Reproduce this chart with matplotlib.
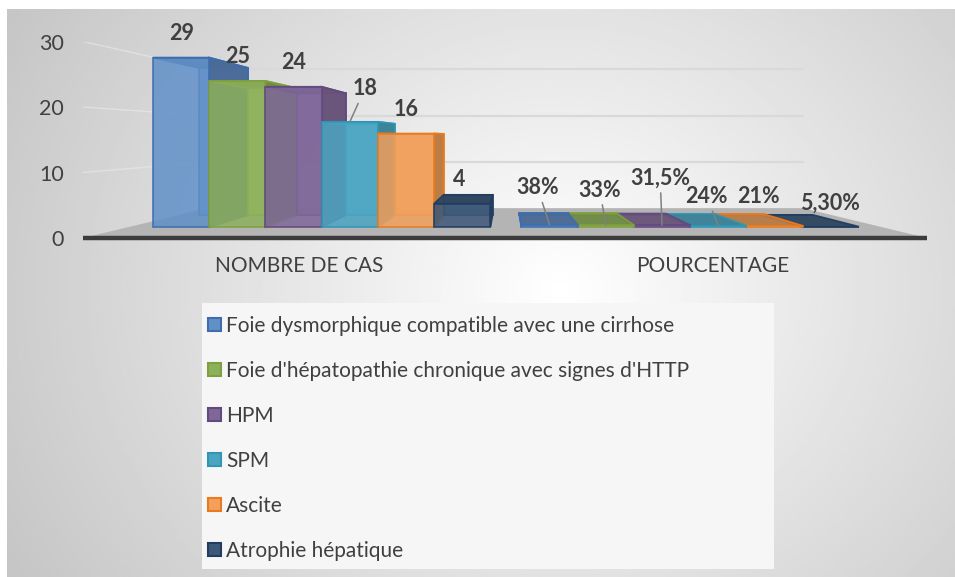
import matplotlib.pyplot as plt
import numpy as np
from matplotlib.patches import Polygon, Rectangle, Patch

plt.rcParams['font.family'] = ['Lato', 'DejaVu Sans']

# data
groups = ['NOMBRE DE CAS', 'POURCENTAGE']
series = ['Foie dysmorphique compatible avec une cirrhose',
          "Foie d'hépatopathie chronique avec signes d'HTTP",
          'HPM', 'SPM', 'Ascite', 'Atrophie hépatique']
nombre = [29, 25, 24, 18, 16, 4]
pourcentage = [38, 33, 31.5, 24, 21, 5.3]
pct_labels = ['38%', '33%', '31,5%', '24%', '21%', '5,30%']
yticks = [0, 10, 20, 30]

# colours
face = ['#6190C8', '#8DB05B', '#7F6899', '#4BA5C2', '#F2A05C', '#3D5878']
edge = ['#3D6DAF', '#7FA03E', '#62497F', '#2F96B5', '#EA7A1E', '#223D60']
light = ['#6E9CD2', '#A6C66F', '#8F78AB', '#63B7CF', '#F7AD6C', '#4A6787']
dark = ['#4A6B96', '#6E8A45', '#685478', '#3B8197', '#B87A44', '#2E4560']
txt = '#404040'

# label nudges in pixels (dx, dy above bar top) and leader flags
off1 = [(1, 24), (0, 24), (0, 24), (15, 33), (0, 24), (-3, 24)]
lead1 = [False, False, False, True, False, False]
off2 = [(-12, 37), (-6, 35), (-2, 47), (-12, 29), (-16, 29), (-1, 24)]
lead2 = [True, True, True, True, False, False]

# fake 3d: depth scale toward a vanishing point
S_FRONT, S_BACK, S_FLOOR = 0.892, 0.775, 0.706
gap = 0.55
n = len(series)
x0s = [np.arange(n), np.arange(n) + n + gap]
heights = [nombre, [p / 100 for p in pourcentage]]
xl, xr = -0.43, 2 * n + gap + 0.4
vx = (x0s[0].mean() + x0s[1].mean()) / 2 + 0.5
vy = 15.5


def P(x, y, s):
    return (vx + (x - vx) * s, vy + (y - vy) * s)


fig = plt.figure(figsize=(9.55, 5.77), dpi=100)

# background gradient
bg = fig.add_axes([7 / 955, 0, 948 / 955, 568 / 577])
gx, gy = np.meshgrid(np.linspace(7, 955, 300), np.linspace(9, 577, 200))
d = np.sqrt(((gx - 560) / 450) ** 2 + ((gy - 290) / 400) ** 2)
bg.imshow(1 - 0.16 * d, cmap='gray', vmin=0, vmax=1, aspect='auto')
bg.axis('off')
fig.add_artist(Rectangle((202 / 955, 1 - 569 / 577), 572 / 955, 266 / 577,
                         transform=fig.transFigure, facecolor='#f6f6f6',
                         edgecolor='none'))

ax = fig.add_axes([83 / 955, 1 - 238 / 577, 844 / 955, 196.5 / 577])
ax.patch.set_visible(False)
ax.set_xlim(xl, xr)
ax.set_ylim(0, 30)
for sp in ax.spines.values():
    sp.set_visible(False)

# floor and walls
ax.add_patch(Polygon([P(xl, 0, 1), P(xr, 0, 1), P(xr, 0, S_FLOOR), P(xl, 0, S_FLOOR)],
                     closed=True, facecolor='#b4b4b4', edgecolor='none', zorder=1))
for v in yticks[1:]:
    a, b = P(xl, v, S_FLOOR), P(xr, v, S_FLOOR)
    ax.plot([a[0], b[0]], [a[1], b[1]], color='#d9d9d9', lw=1.6, zorder=0.5)
    c = P(xl, v, 1)
    ax.plot([c[0], a[0]], [c[1], a[1]], color='#ebebeb', lw=1.0, alpha=0.6, zorder=0.5)
ax.plot([xl, xr], [0, 0], color='#3c3c3c', lw=3.2, solid_capstyle='butt',
        zorder=1.5, clip_on=False)


def box(x0, h, i, z):
    x1 = x0 + 1
    side_x = x1 if x1 < vx else x0
    faces = [
        ([P(x0, 0, S_BACK), P(x1, 0, S_BACK), P(x1, h, S_BACK), P(x0, h, S_BACK)], light[i], 0.9),
        ([P(x0, h, S_FRONT), P(x1, h, S_FRONT), P(x1, h, S_BACK), P(x0, h, S_BACK)], dark[i], 0.95),
        ([P(side_x, 0, S_FRONT), P(side_x, 0, S_BACK), P(side_x, h, S_BACK), P(side_x, h, S_FRONT)], dark[i], 0.95),
        ([P(x0, 0, S_FRONT), P(x1, 0, S_FRONT), P(x1, h, S_FRONT), P(x0, h, S_FRONT)], face[i], 0.85),
    ]
    for k, (pts, col, al) in enumerate(faces):
        ax.add_patch(Polygon(pts, closed=True, facecolor=col, alpha=al,
                             edgecolor=edge[i], lw=1.3, zorder=z + k * 0.01,
                             clip_on=False))


for g in range(2):
    order = sorted(range(n), key=lambda i: -abs(x0s[g][i] + 0.5 - vx))
    for r, i in enumerate(order):
        box(x0s[g][i], heights[g][i], i, 2 + r * 0.1)

# data labels
labels = [[str(v) for v in nombre], pct_labels]
offs = [off1, off2]
leads = [lead1, lead2]
for g in range(2):
    for i in range(n):
        anchor = P(x0s[g][i] + 0.5, heights[g][i], S_FRONT)
        dx, dy = offs[g][i]
        arrow = dict(arrowstyle='-', color='#808080', lw=1.1, shrinkA=1, shrinkB=0) if leads[g][i] else None
        ax.annotate(labels[g][i], xy=anchor, xytext=(dx * 0.72, dy * 0.72),
                    textcoords='offset points', ha='center', va='center',
                    fontsize=15.5, fontweight='bold', color=txt,
                    arrowprops=arrow, zorder=5, annotation_clip=False)

ax.set_yticks(yticks)
ax.set_xticks([x0s[0].mean() + 0.5, x0s[1].mean() + 0.5])
ax.set_xticklabels(groups)
ax.tick_params(axis='y', length=0, pad=14, labelsize=15.5, labelcolor=txt)
ax.tick_params(axis='x', length=0, pad=13, labelsize=15, labelcolor=txt)

handles = [Patch(facecolor=face[i], edgecolor=edge[i], lw=1.5) for i in range(n)]
fig.legend(handles, series, loc='upper left', bbox_to_anchor=(208 / 955, 1 - 316 / 577),
           frameon=False, fontsize=15, labelcolor=txt, labelspacing=1.2,
           handlelength=0.62, handleheight=0.62, handletextpad=0.25,
           borderpad=0, borderaxespad=0)

fig.savefig('out.png', dpi=100)
